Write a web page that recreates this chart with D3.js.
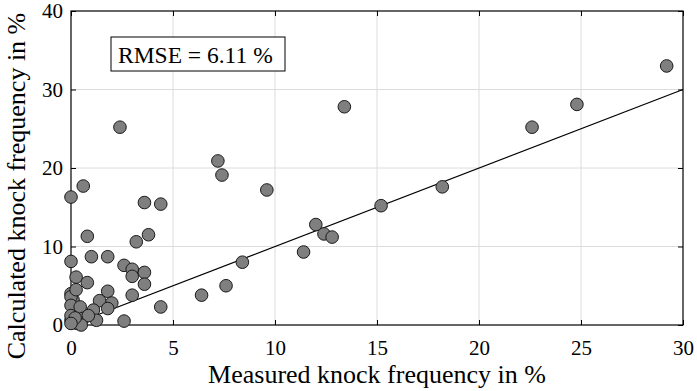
<!DOCTYPE html>
<html>
<head>
<meta charset="utf-8">
<script src="https://cdn.jsdelivr.net/npm/d3@7"></script>
<style>
  html, body { margin: 0; padding: 0; background: #fff; }
</style>
</head>
<body>
<div id="chart"></div>
<script>
// measured vs calculated knock frequency (%)
const measured = [29.2, 24.8, 22.6, 18.2, 15.2, 13.4, 12.0, 12.4, 12.8, 11.4, 9.6, 8.4, 7.6, 6.4, 7.2, 7.4,
  2.4, 0.6, 0.0, 3.6, 4.4, 0.8, 3.8, 3.2, 0.0, 1.0, 1.8, 2.6, 3.0, 3.0, 3.6, 3.6, 0.25, 0.8, 4.4, 3.0,
  0.0, 0.1, 0.0, 0.0, 0.45, 0.25, 1.4, 1.8, 2.0, 1.8, 1.1, 2.6, 1.25, 0.6, 0.85, 0.0, 0.3, 0.0, 0.5, 0.2, 0.0];
const calculated = [33.0, 28.1, 25.2, 17.6, 15.2, 27.8, 12.8, 11.6, 11.2, 9.3, 17.2, 8.0, 5.0, 3.8, 20.9, 19.1,
  25.2, 17.7, 16.3, 15.6, 15.4, 11.3, 11.5, 10.6, 8.1, 8.7, 8.7, 7.6, 7.1, 6.2, 6.7, 5.2, 6.1, 5.4, 2.3, 3.8,
  4.0, 3.2, 3.6, 2.5, 2.3, 4.5, 3.1, 4.3, 2.8, 2.1, 1.9, 0.5, 0.6, 0.85, 1.2, 0.6, 0.2, 1.2, 0.0, 0.9, 0.2];
const xTicks = [0, 5, 10, 15, 20, 25, 30];
const yTicks = [0, 10, 20, 30, 40];
const rmseLabel = "RMSE = 6.11 %";

const serif = "Liberation Serif";
const width = 697, height = 391;
const margin = { top: 11, right: 14, bottom: 66, left: 71 };
const innerW = width - margin.left - margin.right;
const innerH = height - margin.top - margin.bottom;

const svg = d3.select("#chart").append("svg")
    .attr("width", width)
    .attr("height", height)
    .attr("font-family", serif);

const g = svg.append("g").attr("transform", `translate(${margin.left},${margin.top})`);

const x = d3.scaleLinear().domain([0, 30]).range([0, innerW]);
const y = d3.scaleLinear().domain([0, 40]).range([innerH, 0]);

// grid
g.append("g").selectAll("line").data(xTicks.slice(1, -1)).enter().append("line")
    .attr("x1", d => x(d)).attr("x2", d => x(d))
    .attr("y1", 0).attr("y2", innerH)
    .attr("stroke", "#dcdcdc").attr("stroke-width", 1);
g.append("g").selectAll("line").data(yTicks.slice(1, -1)).enter().append("line")
    .attr("y1", d => y(d)).attr("y2", d => y(d))
    .attr("x1", 0).attr("x2", innerW)
    .attr("stroke", "#dcdcdc").attr("stroke-width", 1);

// axes, ticks pointing inward
const tickLen = 5;
const xAxis = g.append("g").attr("transform", `translate(0,${innerH})`)
    .call(d3.axisBottom(x).tickValues(xTicks).tickSize(-tickLen).tickPadding(15).tickSizeOuter(0));
const xTop = g.append("g")
    .call(d3.axisTop(x).tickValues(xTicks).tickSize(-tickLen).tickFormat("").tickSizeOuter(0));
const yAxis = g.append("g")
    .call(d3.axisLeft(y).tickValues(yTicks).tickSize(-tickLen).tickPadding(8).tickSizeOuter(0));
const yRight = g.append("g").attr("transform", `translate(${innerW},0)`)
    .call(d3.axisRight(y).tickValues(yTicks).tickSize(-tickLen).tickFormat("").tickSizeOuter(0));

[xAxis, xTop, yAxis, yRight].forEach(a => {
    a.attr("font-family", serif).attr("font-size", 21);
    a.select(".domain").remove();
    a.selectAll("line").attr("stroke", "#000");
    a.selectAll("text")
        .attr("font-family", serif)
        .attr("font-size", 21)
        .attr("fill", "#000");
});

g.append("rect")
    .attr("width", innerW).attr("height", innerH)
    .attr("fill", "none").attr("stroke", "#000").attr("stroke-width", 1.2);

// 1:1 line
g.append("line")
    .attr("x1", x(0)).attr("y1", y(0))
    .attr("x2", x(30)).attr("y2", y(30))
    .attr("stroke", "#000").attr("stroke-width", 1.2);

// points
g.append("g").selectAll("circle")
    .data(measured.map((m, i) => [m, calculated[i]]))
    .enter().append("circle")
    .attr("cx", d => x(d[0]))
    .attr("cy", d => y(d[1]))
    .attr("r", 6.3)
    .attr("fill", "#7f7f7f")
    .attr("stroke", "#1a1a1a")
    .attr("stroke-width", 1);

// RMSE box
const box = g.append("g").attr("transform", `translate(${40},${26})`);
box.append("rect")
    .attr("width", 174).attr("height", 34)
    .attr("fill", "#fff").attr("stroke", "#000").attr("stroke-width", 1);
box.append("text")
    .attr("x", 7).attr("y", 26)
    .attr("font-family", serif)
    .attr("font-size", 23.5)
    .text(rmseLabel);

// axis labels
svg.append("text")
    .attr("x", margin.left + innerW / 2)
    .attr("y", 383)
    .attr("text-anchor", "middle")
    .attr("font-family", serif)
    .attr("font-size", 26)
    .text("Measured knock frequency in %");

svg.append("text")
    .attr("transform", `translate(25,${margin.top + innerH / 2 + 18}) rotate(-90)`)
    .attr("text-anchor", "middle")
    .attr("font-family", serif)
    .attr("font-size", 26)
    .text("Calculated knock frequency in %");
</script>
</body>
</html>
